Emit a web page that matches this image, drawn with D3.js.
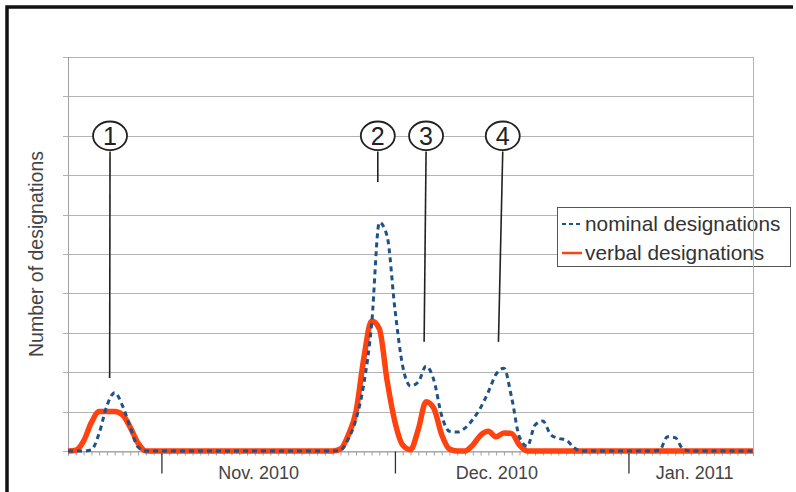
<!DOCTYPE html>
<html>
<head>
<meta charset="utf-8">
<script src="https://cdn.jsdelivr.net/npm/d3@7"></script>
<style>
  body { margin: 0; background: #fff; }
  svg { display: block; font-family: "Liberation Sans", Arial, sans-serif; }
</style>
</head>
<body>
<div id="chart"></div>
<script>
// Data: one value per day, day 0 = 20 Oct 2010
var nominal = [
  0, 0, 0, 0.03, 0.45, 1.15, 1.48, 1.15, 0.6, 0.1,
  0, 0, 0, 0, 0, 0, 0, 0, 0, 0,
  0, 0, 0, 0, 0, 0, 0, 0, 0, 0,
  0, 0, 0, 0, 0, 0.02, 0.3, 0.8, 1.7, 3.2,
  5.8, 5.45, 3.6, 2.15, 1.65, 1.75, 2.15, 1.8, 0.9, 0.5,
  0.48, 0.58, 0.8, 1.1, 1.5, 1.95, 2.1, 1.35, 0.35, 0.12,
  0.66, 0.76, 0.42, 0.32, 0.28, 0.08, 0, 0, 0, 0,
  0, 0, 0, 0, 0, 0, 0.02, 0.36, 0.34, 0.05,
  0, 0, 0, 0, 0, 0, 0, 0, 0
];
var verbal = [
  0, 0.02, 0.25, 0.72, 1.0, 1.0, 1.0, 0.92, 0.6, 0.2,
  0, 0, 0, 0, 0, 0, 0, 0, 0, 0,
  0, 0, 0, 0, 0, 0, 0, 0, 0, 0,
  0, 0, 0, 0, 0, 0.05, 0.4, 1.0, 2.35, 3.3,
  3.1, 1.78, 0.74, 0.15, 0.03, 0.55, 1.25, 1.08, 0.42, 0.05,
  0, 0, 0.15, 0.4, 0.5, 0.36, 0.46, 0.44, 0.15, 0,
  0, 0, 0, 0, 0, 0, 0, 0, 0, 0,
  0, 0, 0, 0, 0, 0, 0, 0, 0, 0,
  0, 0, 0, 0, 0, 0, 0, 0, 0
];
var monthTicks = [12, 42, 72];
var monthLabels = ["Nov. 2010", "Dec. 2010", "Jan. 2011"];
var monthLabelDay = [24.5, 55.1, 80.5];
var seriesNames = ["nominal designations", "verbal designations"];

// annotations: label, day at top, day at bottom, value at bottom
var noteLabels = ["1", "2", "3", "4"];
var noteDayTop = [5.4, 39.8, 46.0, 55.85];
var noteDayBottom = [5.35, 39.8, 45.75, 55.3];
var noteValue = [1.85, 6.83, 2.77, 2.77];

var w = 796;
var h = 492;

var svg = d3.select("#chart")
    .append("svg")
    .attr("width", w)
    .attr("height", h);

var x = d3.scaleLinear().domain([0, nominal.length - 1]).range([68, 753]);
var y = d3.scaleLinear().domain([0, 10]).range([451, 57]);

// frame
svg.append("path")
    .attr("d", "M7,492 L7,7 L793,7")
    .attr("fill", "none")
    .attr("stroke", "#111")
    .attr("stroke-width", 3.5);

// horizontal grid lines with small ticks on the left
svg.append("g")
    .selectAll("line")
    .data(d3.range(0, 11))
    .enter()
    .append("line")
    .attr("x1", 63)
    .attr("x2", 753)
    .attr("y1", function (d) { return Math.round(y(d)) + 0.5; })
    .attr("y2", function (d) { return Math.round(y(d)) + 0.5; })
    .attr("stroke", "#b3b3b3");

// left edge of plot area
svg.append("line")
    .attr("x1", 68.5).attr("x2", 68.5)
    .attr("y1", y(10)).attr("y2", y(0))
    .attr("stroke", "#a0a0a0");

// x axis: minor daily ticks
var minorAxis = d3.axisBottom(x)
    .tickValues(d3.range(0, nominal.length))
    .tickSize(4)
    .tickFormat("");
svg.append("g")
    .attr("transform", "translate(0," + (Math.round(y(0)) + 0.5) + ")")
    .call(minorAxis)
    .call(function (g) {
        g.select(".domain").attr("stroke", "#a0a0a0");
        g.selectAll(".tick line").attr("stroke", "#a0a0a0");
    });

// x axis: month ticks
var majorAxis = d3.axisBottom(x)
    .tickValues(monthTicks)
    .tickSize(22)
    .tickFormat("");
svg.append("g")
    .attr("transform", "translate(0," + (Math.round(y(0)) + 0.5) + ")")
    .call(majorAxis)
    .call(function (g) {
        g.select(".domain").remove();
        g.selectAll(".tick line").attr("stroke", "#333").attr("stroke-width", 1.3);
    });

// month labels
svg.append("g")
    .selectAll("text")
    .data(monthLabels)
    .enter()
    .append("text")
    .attr("x", function (d, i) { return x(monthLabelDay[i]); })
    .attr("y", 479)
    .attr("text-anchor", "middle")
    .attr("font-size", 18)
    .attr("fill", "#444")
    .text(function (d) { return d; });

// y axis title
svg.append("text")
    .attr("transform", "translate(43,254) rotate(-90)")
    .attr("text-anchor", "middle")
    .attr("font-size", 19.5)
    .attr("fill", "#444")
    .text("Number of designations");

// series lines
var line = d3.line()
    .x(function (d, i) { return x(i); })
    .y(function (d) { return y(d); })
    .curve(d3.curveMonotoneX);

svg.append("path")
    .datum(verbal)
    .attr("d", line)
    .attr("fill", "none")
    .attr("stroke", "#ff420e")
    .attr("stroke-width", 5.5)
    .attr("stroke-linejoin", "round");

svg.append("path")
    .datum(nominal)
    .attr("d", line)
    .attr("fill", "none")
    .attr("stroke", "#1f5286")
    .attr("stroke-width", 3)
    .attr("stroke-dasharray", "5,4");

// annotations
var notes = svg.append("g")
    .selectAll("g")
    .data(noteLabels)
    .enter()
    .append("g");

notes.append("line")
    .attr("x1", function (d, i) { return x(noteDayTop[i]); })
    .attr("y1", y(7.6))
    .attr("x2", function (d, i) { return x(noteDayBottom[i]); })
    .attr("y2", function (d, i) { return y(noteValue[i]); })
    .attr("stroke", "#222")
    .attr("stroke-width", 1.6);

notes.append("ellipse")
    .attr("cx", function (d, i) { return x(noteDayTop[i]); })
    .attr("cy", y(8))
    .attr("rx", 17)
    .attr("ry", 14.3)
    .attr("fill", "#fff")
    .attr("stroke", "#222")
    .attr("stroke-width", 1.8);

notes.append("text")
    .attr("x", function (d, i) { return x(noteDayTop[i]); })
    .attr("y", y(8) + 9)
    .attr("text-anchor", "middle")
    .attr("font-size", 25)
    .attr("font-weight", 300)
    .attr("fill", "#222")
    .text(function (d) { return d; });

// legend
var legend = svg.append("g");
legend.append("rect")
    .attr("x", 557.5)
    .attr("y", 207.5)
    .attr("width", 233)
    .attr("height", 59)
    .attr("fill", "#fff")
    .attr("stroke", "#555");

legend.selectAll("line.key")
    .data(seriesNames)
    .enter()
    .append("line")
    .attr("class", "key")
    .attr("x1", 562)
    .attr("x2", 582)
    .attr("y1", function (d, i) { return 224 + i * 29; })
    .attr("y2", function (d, i) { return 224 + i * 29; })
    .attr("stroke", function (d, i) { return i === 0 ? "#1f5286" : "#ff420e"; })
    .attr("stroke-width", function (d, i) { return i === 0 ? 2 : 2.5; })
    .attr("stroke-dasharray", function (d, i) { return i === 0 ? "4,3" : null; });

legend.selectAll("text")
    .data(seriesNames)
    .enter()
    .append("text")
    .attr("x", 585)
    .attr("y", function (d, i) { return 231 + i * 29; })
    .attr("font-size", 20.8)
    .attr("fill", "#333")
    .text(function (d) { return d; });

// right edge of plot area drawn over the legend
svg.append("line")
    .attr("x1", 753.5).attr("x2", 753.5)
    .attr("y1", y(10)).attr("y2", y(0))
    .attr("stroke", "#b3b3b3");
</script>
</body>
</html>
